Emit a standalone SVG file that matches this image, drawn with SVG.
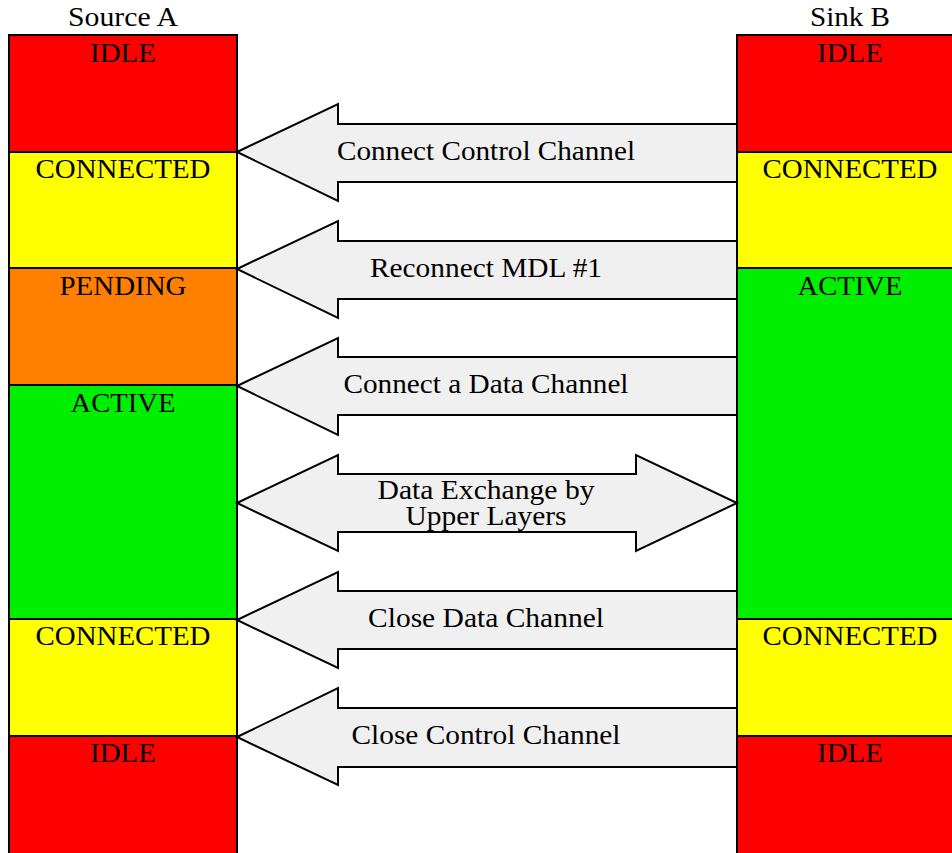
<svg xmlns="http://www.w3.org/2000/svg" width="952" height="853" viewBox="0 0 952 853">
<style>
.t{font-family:"Liberation Serif","Times New Roman",serif;font-size:27px;fill:#000;text-anchor:middle}
.s{stroke:#000;stroke-width:2}
.idle{fill:#ff0000}.conn{fill:#ffff00}.pend{fill:#ff8000}.act{fill:#00ee00}
.arr{fill:#f0f0f0;stroke:#000;stroke-width:2;stroke-linejoin:miter}
</style>
<rect width="952" height="853" fill="#fff"/>
<g id="source-a">
<text class="t" x="123" y="26" textLength="110" lengthAdjust="spacingAndGlyphs">Source A</text>
<rect class="s idle" x="9" y="35" width="228" height="117"/>
<rect class="s conn" x="9" y="152" width="228" height="116"/>
<rect class="s pend" x="9" y="268" width="228" height="117"/>
<rect class="s act" x="9" y="385" width="228" height="234"/>
<rect class="s conn" x="9" y="619" width="228" height="117"/>
<rect class="s idle" x="9" y="736" width="228" height="130"/>
<text class="t" x="123" y="62" textLength="66" lengthAdjust="spacingAndGlyphs">IDLE</text>
<text class="t" x="123" y="178" textLength="175" lengthAdjust="spacingAndGlyphs">CONNECTED</text>
<text class="t" x="123" y="295" textLength="127" lengthAdjust="spacingAndGlyphs">PENDING</text>
<text class="t" x="123" y="412" textLength="105" lengthAdjust="spacingAndGlyphs">ACTIVE</text>
<text class="t" x="123" y="645" textLength="175" lengthAdjust="spacingAndGlyphs">CONNECTED</text>
<text class="t" x="123" y="762" textLength="66" lengthAdjust="spacingAndGlyphs">IDLE</text>
</g>
<g id="sink-b">
<text class="t" x="850" y="26" textLength="80" lengthAdjust="spacingAndGlyphs">Sink B</text>
<rect class="s idle" x="737" y="35" width="230" height="117"/>
<rect class="s conn" x="737" y="152" width="230" height="116"/>
<rect class="s act" x="737" y="268" width="230" height="351"/>
<rect class="s conn" x="737" y="619" width="230" height="117"/>
<rect class="s idle" x="737" y="736" width="230" height="130"/>
<text class="t" x="850" y="62" textLength="66" lengthAdjust="spacingAndGlyphs">IDLE</text>
<text class="t" x="850" y="178" textLength="175" lengthAdjust="spacingAndGlyphs">CONNECTED</text>
<text class="t" x="850" y="295" textLength="105" lengthAdjust="spacingAndGlyphs">ACTIVE</text>
<text class="t" x="850" y="645" textLength="175" lengthAdjust="spacingAndGlyphs">CONNECTED</text>
<text class="t" x="850" y="762" textLength="66" lengthAdjust="spacingAndGlyphs">IDLE</text>
</g>
<g id="connectors">
<g id="a1">
<path class="arr" d="M237,152 L338,104 L338,124 L737,124 L737,182 L338,182 L338,201 Z"/>
<text class="t" x="486" y="160" textLength="298" lengthAdjust="spacingAndGlyphs">Connect Control Channel</text>
</g>
<g id="a2">
<path class="arr" d="M237,269 L338,221 L338,241 L737,241 L737,299 L338,299 L338,318 Z"/>
<text class="t" x="486" y="277" textLength="232" lengthAdjust="spacingAndGlyphs">Reconnect MDL #1</text>
</g>
<g id="a3">
<path class="arr" d="M237,386 L338,338 L338,357 L737,357 L737,415 L338,415 L338,435 Z"/>
<text class="t" x="486" y="393" textLength="285" lengthAdjust="spacingAndGlyphs">Connect a Data Channel</text>
</g>
<g id="a4">
<path class="arr" d="M237,503 L338,455 L338,474 L636,474 L636,455 L737,503 L636,551 L636,532 L338,532 L338,551 Z"/>
<text class="t" x="486" y="499" textLength="217" lengthAdjust="spacingAndGlyphs">Data Exchange by</text>
<text class="t" x="486" y="525" textLength="161" lengthAdjust="spacingAndGlyphs">Upper Layers</text>
</g>
<g id="a5">
<path class="arr" d="M237,620 L338,572 L338,591 L737,591 L737,649 L338,649 L338,668 Z"/>
<text class="t" x="486" y="627" textLength="236" lengthAdjust="spacingAndGlyphs">Close Data Channel</text>
</g>
<g id="a6">
<path class="arr" d="M237,737 L338,688 L338,708 L737,708 L737,767 L338,767 L338,785 Z"/>
<text class="t" x="486" y="744" textLength="269" lengthAdjust="spacingAndGlyphs">Close Control Channel</text>
</g>
</g>
</svg>
